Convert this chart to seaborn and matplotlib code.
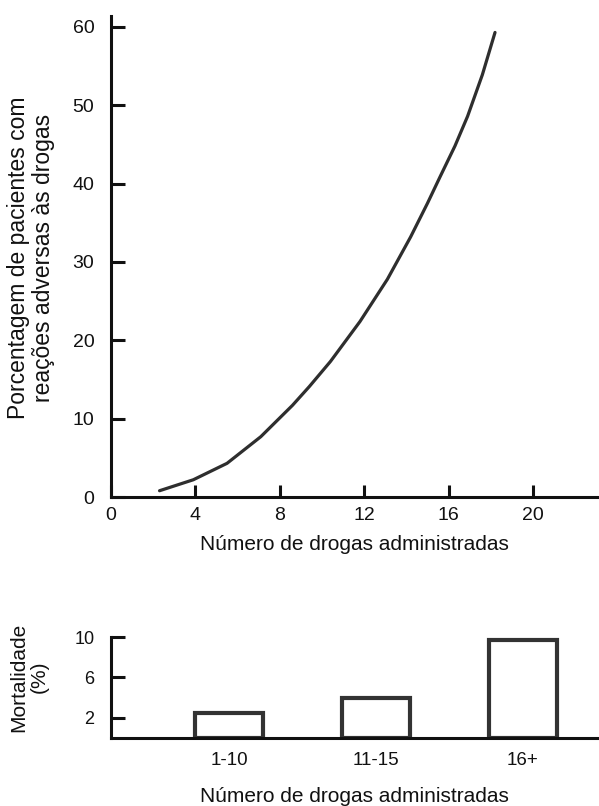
import matplotlib
matplotlib.use("Agg")
import matplotlib.pyplot as plt
import seaborn as sns
import pandas as pd

# ---- data ----
drogas_x = [2.3, 3.9, 5.5, 7.1, 8.6, 9.4, 10.4, 11.8, 13.1, 14.2, 15.0, 15.6, 16.3, 16.9, 17.6, 18.2]
reacoes_y = [0.8, 2.2, 4.3, 7.7, 11.7, 14.1, 17.3, 22.4, 27.8, 33.2, 37.5, 40.9, 44.8, 48.6, 53.9, 59.3]
x_ticks_top = [0, 4, 8, 12, 16, 20]
y_ticks_top = [0, 10, 20, 30, 40, 50, 60]

faixas = ["1-10", "11-15", "16+"]
mortalidade = [2.5, 4.0, 9.7]
y_ticks_bottom = [2, 6, 10]

ylabel_top = "Porcentagem de pacientes com\nreações adversas às drogas"
xlabel = "Número de drogas administradas"
ylabel_bottom = "Mortalidade\n(%)"

# ---- style ----
sns.set_style("ticks")
plt.rcParams["font.family"] = ["Liberation Sans", "DejaVu Sans"]
INK = "#111111"
LINE = "#2e2e2e"

W, H = 599, 806
fig = plt.figure(figsize=(W / 100, H / 100), dpi=100)

def box(l, t, r, b):
    return [l / W, 1 - b / H, (r - l) / W, (b - t) / H]

# ---- top chart ----
ax1 = fig.add_axes(box(111, 16, 599, 497))
sns.lineplot(x=drogas_x, y=reacoes_y, ax=ax1, color=LINE, linewidth=2.3, sort=True)
ax1.set_xlim(0, 488 / 21.1)
ax1.set_ylim(0, 61.4)
ax1.set_xticks(x_ticks_top)
ax1.set_yticks(y_ticks_top)
for s in ["top", "right"]:
    ax1.spines[s].set_visible(False)
for s in ["left", "bottom"]:
    ax1.spines[s].set_linewidth(2.2)
    ax1.spines[s].set_color(INK)
ax1.tick_params(axis="y", direction="in", length=10, width=2.2, pad=12,
                labelsize=14, colors=INK)
ax1.tick_params(axis="x", direction="in", length=9, width=2.2, pad=7,
                labelsize=14, colors=INK)
ax1.set_xlabel("")
ax1.set_ylabel("")
ax1.set_facecolor("white")

fig.text(354 / W, 1 - 545 / H, xlabel, ha="center", va="center", fontsize=15, color=INK)
fig.text(31 / W, 1 - 258 / H, ylabel_top, ha="center", va="center", rotation=90,
         fontsize=16.5, color=INK, linespacing=1.08)

# ---- bottom chart ----
ax2 = fig.add_axes(box(111, 637, 599, 738))
df = pd.DataFrame({"faixa": faixas, "mort": mortalidade})
sns.barplot(data=df, x="faixa", y="mort", order=faixas, ax=ax2, color="white",
            edgecolor="#333333", linewidth=3.0, width=0.456, saturation=1)
ax2.set_xlim(-(229 - 111) / 147, (599 - 229) / 147)
ax2.set_ylim(0, 10)
ax2.set_yticks(y_ticks_bottom)
for s in ["top", "right"]:
    ax2.spines[s].set_visible(False)
for s in ["left", "bottom"]:
    ax2.spines[s].set_linewidth(2.2)
    ax2.spines[s].set_color(INK)
ax2.tick_params(axis="y", direction="in", length=10, width=2.2, pad=12,
                labelsize=13, colors=INK)
ax2.tick_params(axis="x", length=0, pad=10, labelsize=13.5, colors=INK)
ax2.set_xlabel("")
ax2.set_ylabel("")
ax2.set_facecolor("white")

fig.text(354 / W, 1 - 796 / H, xlabel, ha="center", va="center", fontsize=15, color=INK)
fig.text(29 / W, 1 - 677 / H, ylabel_bottom, ha="center", va="center", rotation=90,
         fontsize=15, color=INK, linespacing=1.12)

fig.savefig("out.png", dpi=100, facecolor="white")
